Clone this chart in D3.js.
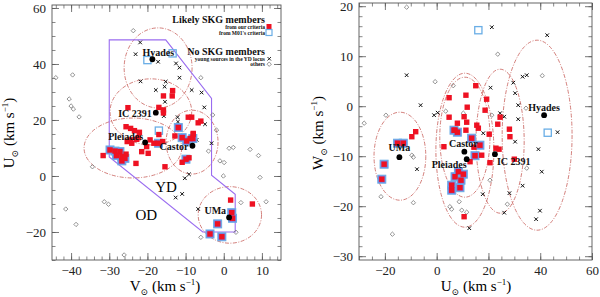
<!DOCTYPE html>
<html>
<head>
<meta charset="utf-8">
<script src="https://cdn.jsdelivr.net/npm/d3@7"></script>
<style>
  body { margin: 0; background: #fff; }
  svg { display: block; font-family: "Liberation Serif", "DejaVu Serif", serif; }
</style>
</head>
<body>
<div id="mount"></div>
<script>
'use strict';

// ---- data: (V,U) plane on the left, (U,W) plane on the right ----
const groupNames = ['Hyades', 'IC 2391', 'Pleiades', 'Castor', 'UMa'];
const groupVU = [[-18.7, 41.7], [-17.8, 22.6], [-20.6, 12.0], [-8.2, 10.8], [1.4, -14.8]];
const groupUW = [[41.5, -1.8], [22.5, -9.6], [11.6, -10.6], [10.7, -9.1], [-14.4, -10.2]];

// group boxes: centre and half widths
const ringsVU = [[-17.2, 38.6, 8.9, 14.3], [-19.1, 22.9, 10.7, 11.8], [-23.8, 10.0, 12.8, 10.7],
                 [-8.3, 12.1, 6.8, 11.4], [1.6, -13.9, 8.3, 10.1]];
const ringsUW = [[38.8, -5.8, 13.5, 19], [24.5, -7.0, 9.3, 14.4], [10.9, -6.2, 9.7, 12],
                 [10.9, -8.8, 11.2, 15.4], [-14.2, -10.0, 10.0, 8.8]];

// young disk locus
const ydLocus = [[-30, 48.6], [-15.2, 48.6], [-3.2, 27.7], [-3.2, 0.3], [3, -6.5], [3, -20], [-5.5, -20], [-30, 6.8]];

const redVU = [[-25.1, 24.4], [-17.0, 24.5], [-15.8, 23.6], [-15.8, 22.5], [-15.8, 28.6], [-13.4, 30.5], [-13.5, 28.6],
  [-25.6, 17.6], [-24.4, 17.0], [-23.4, 16.2], [-22.1, 15.6], [-17.0, 14.8], [-9.3, 21.0], [-8.4, 21.0], [-6.7, 19.0],
  [-6.0, 19.6], [-8.0, 15.2], [-25.3, 12.3], [-24.4, 12.9], [-22.4, 13.7], [-19.3, 12.9], [-18.3, 11.7], [-20.2, 10.5],
  [-19.8, 8.1], [-21.5, 8.7], [-15.4, 3.3], [-23.0, 4.5], [-31.6, 7.3], [-25.6, 7.8], [-8.0, 14.9], [-8.8, 13.4],
  [-12.8, 14.3], [-9.1, 6.5], [-10.9, 4.9], [1.8, -8.6], [7.5, -10.0], [-16.0, 12.3], [-22.8, 13.1], [-24.1, 11.7]];
const bothVU = [[-11.9, 17.3], [-10.9, 13.7], [-9.7, 12.5], [-8.1, 13.4], [-9.9, 6.0], [-17.1, 11.7], [-29.8, 9.3],
  [-28.5, 8.9], [-27.2, 8.7], [-26.7, 6.9], [-28.1, 7.3], [-25.9, 6.3], [-26.7, 5.4], [2.1, -13.1], [2.3, -15.1],
  [-1.6, -17.1], [-3.6, -20.7], [-0.5, -21.7]];
const blueVU = [[-20.0, 41.4], [-13.4, 43.8], [-17.0, 16.2]];
const crossVU = [[-21.9, 47.7], [-23.1, 43.5], [-17.2, 40.8], [-12.5, 40.2], [-11.6, 38.7], [-11.6, 35.1], [-21.8, 33.8],
  [-15.2, 33.7], [-17.8, 30.7], [-15.5, 31.9], [-8.4, 30.7], [-5.8, 29.8], [-15.4, 26.5], [-5.1, 24.5], [-15.7, 21.4],
  [-12.1, 21.0], [-12.0, 19.4], [-4.9, 18.5], [-7.1, 12.9], [-3.2, 11.7], [-9.1, 0.6], [-10.2, -0.8], [-10.9, -6.4],
  [-12.6, -7.7], [-6.7, -11.8]];
const otherVU = [[-23.7, 51.9], [-44.0, 35.1], [-39.6, 36.1], [-40.5, 27.5], [-40.0, 25.0], [-39.4, 23.9], [-37.9, 21.1],
  [-6.0, 35.1], [-2.9, 21.8], [-1.9, 16.4], [-34.4, 3.3], [-31.3, -9.2], [-30.2, -10.1], [-41.4, -11.8], [-38.7, -17.3],
  [-26.1, -28.2], [-4.0, 8.9], [1.4, 9.9], [2.5, 10.2], [6.9, 9.5], [9.1, 7.3], [-1.0, 5.4], [0.1, 4.8], [-0.1, 0.0],
  [9.5, -0.5], [4.5, -9.5], [11.1, -9.2], [-6.0, -21.9], [3.2, -20.1]];

const redUW = [[15.1, 4.1], [4.8, 1.7], [11.3, 2.2], [19.3, 1.4], [11.8, -0.2], [18.7, -0.8], [4.8, -2.2], [10.6, -2.1],
  [24.5, -2.2], [8.0, -3.4], [11.6, -3.2], [15.5, -3.8], [23.6, -3.6], [16.1, -4.4], [11.3, -4.8], [28.1, -4.6],
  [-8.1, -5.1], [-9.6, -6.1], [2.8, -8.1], [14.4, -8.2], [17.4, -9.8], [22.9, -8.4], [24.1, -8.6], [20.6, -11.3],
  [30.0, -10.6], [28.3, -6.1], [20.3, -5.6], [12.9, -11.1], [10.6, -22.1], [7.1, -4.8]];
const bothUW = [[6.7, -4.8], [8.0, -5.2], [-15.1, -7.4], [-12.9, -7.4], [-20.3, -11.6], [-21.2, -14.6], [7.1, -14.1],
  [8.4, -13.1], [5.8, -15.8], [5.8, -16.8], [9.0, -16.3], [9.4, -14.8], [10.3, -13.6], [16.7, -7.8], [14.8, -9.9],
  [13.5, -6.4]];
const blueUW = [[16.1, 15.2], [42.9, -5.3]];
const crossUW = [[21.3, 15.8], [42.7, 14.2], [-11.6, 6.2], [33.2, 5.9], [34.8, 6.2], [29.6, 4.7], [20.8, 3.7], [30.3, 2.6],
  [-6.2, 0.2], [31.5, 0.2], [46.7, -5.2], [31.5, -2.6], [-1.0, -1.8], [0.4, -1.3], [24.5, -1.4], [26.1, -2.1],
  [18.0, -5.4], [30.3, -7.1], [39.3, -8.6], [40.6, -13.1], [-7.6, -12.6], [33.2, -15.9], [28.1, -17.4], [17.8, -17.6],
  [26.1, -21.3], [39.9, -20.9], [38.4, -22.6], [12.6, -24.4]];
const otherUW = [[-11.6, 19.8], [23.6, 10.4], [-0.6, 4.9], [6.4, 4.1], [40.8, 6.1], [34.5, -0.4], [-28.0, -3.4],
  [-19.6, -1.8], [3.5, -1.0], [10.3, -1.4], [21.3, -1.8], [-9.6, -9.8], [-9.0, -10.2], [-21.5, -18.1], [-9.0, -19.3],
  [-17.1, -25.6], [5.1, -20.1], [5.8, -20.6], [8.7, -19.1], [9.7, -20.8], [11.6, -21.2], [34.8, -12.4], [27.3, -19.6],
  [20.6, -14.8]];

const legendTitles = ['Likely SKG members', 'No SKG members'];
const legendItems = ['from our criteria', "from M01's criteria", 'young sources in the YD locus', 'others'];

// ---- styles ----
const RED = '#ee1122', BLUE = '#6aaee6', BOTH = '#7a7ee0', RING = '#c8605a', YD = '#9a6cf0', FRAME = '#555';

const svg = d3.select('#mount').append('svg')
    .attr('width', 600)
    .attr('height', 297);

function sup(t, base) {
  // "X" + subscript sun + " (km s" + superscript -1 + ")"
  t.append('tspan').text(base);
  t.append('tspan').attr('font-size', 9).attr('dy', 4).text('\u2299');
  t.append('tspan').attr('dy', -4).text(' (km s');
  t.append('tspan').attr('font-size', 9).attr('dy', -6).text('\u22121');
  t.append('tspan').attr('dy', 6).text(')');
}

function panel(cfg) {
  const x = d3.scaleLinear().domain(cfg.xd).range([cfg.x0, cfg.x1]);
  const y = d3.scaleLinear().domain(cfg.yd).range([cfg.y1, cfg.y0]);
  const g = svg.append('g');

  // group rings
  g.selectAll('ellipse').data(cfg.rings).join('ellipse')
      .attr('cx', d => x(d[0]))
      .attr('cy', d => y(d[1]))
      .attr('rx', d => x(d[0] + d[2]) - x(d[0]))
      .attr('ry', d => y(d[1]) - y(d[1] + d[3]))
      .attr('fill', 'none')
      .attr('stroke', RING)
      .attr('stroke-width', 0.8)
      .attr('stroke-dasharray', '4,1.5,1,1.5');

  if (cfg.locus) {
    g.append('path')
        .attr('d', d3.line().x(d => x(d[0])).y(d => y(d[1]))(cfg.locus) + 'Z')
        .attr('fill', 'none')
        .attr('stroke', YD)
        .attr('stroke-width', 1.1);
  }

  // frame and ticks on all four sides
  g.append('rect')
      .attr('x', cfg.x0).attr('y', cfg.y0)
      .attr('width', cfg.x1 - cfg.x0).attr('height', cfg.y1 - cfg.y0)
      .attr('fill', 'none').attr('stroke', FRAME).attr('stroke-width', 0.9);

  const axes = [
    [d3.axisBottom(x), `translate(0,${cfg.y1})`, cfg.xMajor, cfg.xMinor, true],
    [d3.axisTop(x), `translate(0,${cfg.y0})`, cfg.xMajor, cfg.xMinor, false],
    [d3.axisLeft(y), `translate(${cfg.x0},0)`, cfg.yMajor, cfg.yMinor, true],
    [d3.axisRight(y), `translate(${cfg.x1},0)`, cfg.yMajor, cfg.yMinor, false]
  ];
  axes.forEach(([ax, tr, major, minor, labels]) => {
    g.append('g').attr('transform', tr)
        .call(ax.tickValues(minor).tickSize(-3.5).tickFormat(''))
        .call(s => s.select('.domain').remove())
        .call(s => s.selectAll('line').attr('stroke', FRAME).attr('stroke-width', 0.7));
    const a = g.append('g').attr('transform', tr)
        .call(ax.tickValues(major).tickSize(-7).tickPadding(labels ? 6 : 0)
          .tickFormat(labels ? d3.format('d') : ''))
        .call(s => s.select('.domain').remove())
        .call(s => s.selectAll('line').attr('stroke', FRAME).attr('stroke-width', 0.8));
    a.selectAll('text').attr('font-size', 13).attr('fill', '#222')
        .attr('font-family', '"Liberation Serif", serif');
  });

  // markers
  g.selectAll('.other').data(cfg.other).join('path').attr('class', 'other')
      .attr('transform', d => `translate(${x(d[0])},${y(d[1])})`)
      .attr('d', 'M0,-2.2L2.2,0L0,2.2L-2.2,0Z')
      .attr('fill', 'none').attr('stroke', '#777').attr('stroke-width', 0.8);
  g.selectAll('.cross').data(cfg.cross).join('path').attr('class', 'cross')
      .attr('transform', d => `translate(${x(d[0])},${y(d[1])})`)
      .attr('d', 'M-1.8,-1.8L1.8,1.8M-1.8,1.8L1.8,-1.8')
      .attr('stroke', '#111').attr('stroke-width', 1);
  g.selectAll('.blue').data(cfg.blue).join('rect').attr('class', 'blue')
      .attr('x', d => x(d[0]) - 3.6).attr('y', d => y(d[1]) - 3.6)
      .attr('width', 7.2).attr('height', 7.2)
      .attr('fill', 'none').attr('stroke', BLUE).attr('stroke-width', 1.3);
  g.selectAll('.bothb').data(cfg.both).join('rect').attr('class', 'bothb')
      .attr('x', d => x(d[0]) - 4).attr('y', d => y(d[1]) - 4)
      .attr('width', 8).attr('height', 8)
      .attr('fill', BOTH).attr('stroke', BLUE).attr('stroke-width', 1);
  g.selectAll('.red').data(cfg.red.concat(cfg.both)).join('rect').attr('class', 'red')
      .attr('x', d => x(d[0]) - 2.7).attr('y', d => y(d[1]) - 2.7)
      .attr('width', 5.4).attr('height', 5.4)
      .attr('fill', RED);

  // group centres and names
  g.selectAll('.grp').data(cfg.groups).join('circle').attr('class', 'grp')
      .attr('cx', d => x(d[0])).attr('cy', d => y(d[1]))
      .attr('r', 2.9).attr('fill', '#000');
  g.selectAll('.gname').data(cfg.groups).join('text').attr('class', 'gname')
      .attr('x', (d, i) => x(d[0]) + cfg.lab[i][0])
      .attr('y', (d, i) => y(d[1]) + cfg.lab[i][1])
      .attr('text-anchor', (d, i) => cfg.lab[i][2])
      .attr('font-size', 10).attr('font-weight', 'bold').attr('fill', '#111')
      .text((d, i) => groupNames[i]);

  return { x, y, g };
}

const left = panel({
  x0: 52, x1: 281, y0: 5, y1: 260, xd: [-45, 15], yd: [-30, 61.07],
  xMajor: d3.range(-40, 11, 10), xMinor: d3.range(-44, 15, 2),
  yMajor: d3.range(-20, 61, 20), yMinor: d3.range(-30, 61, 5),
  rings: ringsVU, locus: ydLocus, groups: groupVU,
  red: redVU, both: bothVU, blue: blueVU, cross: crossVU, other: otherVU,
  lab: [[-10, -3, 'start'], [-4, 4, 'end'], [-2, -2, 'end'], [-4, 4, 'end'], [-3, -3, 'end']]
});

const right = panel({
  x0: 359, x1: 592, y0: 3, y1: 260, xd: [-30, 60], yd: [-30.76, 20.64],
  xMajor: d3.range(-20, 61, 20), xMinor: d3.range(-30, 61, 5),
  yMajor: d3.range(-30, 21, 10), yMinor: d3.range(-30, 21, 2),
  rings: ringsUW, groups: groupUW,
  red: redUW, both: bothUW, blue: blueUW, cross: crossUW, other: otherUW,
  lab: [[0, -4, 'middle'], [2, 11, 'start'], [0, 9, 'end'], [-1, -5, 'middle'], [0, -6, 'middle']]
});

// region names in the (V,U) plane
left.g.append('text').attr('x', left.x(-15.1)).attr('y', left.y(-5.6))
    .attr('text-anchor', 'middle').attr('font-size', 15).text('YD');
left.g.append('text').attr('x', left.x(-20.3)).attr('y', left.y(-15.6))
    .attr('text-anchor', 'middle').attr('font-size', 15).text('OD');

// legend
const lg = svg.append('g').attr('font-weight', 'bold').attr('fill', '#111').attr('text-anchor', 'end');
lg.append('text').attr('x', 265).attr('y', 23).attr('font-size', 10).text(legendTitles[0]);
lg.append('text').attr('x', 265).attr('y', 55).attr('font-size', 10).text(legendTitles[1]);
const itemY = [29, 35, 61, 66];
legendItems.forEach((t, i) => {
  lg.append('text').attr('x', 265).attr('y', itemY[i]).attr('font-size', 5.5).text(t);
});
lg.append('rect').attr('x', 266.5).attr('y', 24).attr('width', 5).attr('height', 5).attr('fill', RED);
lg.append('rect').attr('x', 266).attr('y', 29.5).attr('width', 6).attr('height', 6)
    .attr('fill', 'none').attr('stroke', BLUE).attr('stroke-width', 1.2);
lg.append('path').attr('d', 'M267.5,57L271,60.5M267.5,60.5L271,57').attr('stroke', '#111').attr('stroke-width', 0.9);
lg.append('path').attr('d', 'M269.2,62L271.4,64.2L269.2,66.4L267,64.2Z').attr('fill', 'none')
    .attr('stroke', '#777').attr('stroke-width', 0.8);

// axis titles
sup(svg.append('text').attr('x', 165).attr('y', 291).attr('text-anchor', 'middle').attr('font-size', 15), 'V');
sup(svg.append('text').attr('x', 476).attr('y', 291).attr('text-anchor', 'middle').attr('font-size', 15), 'U');
sup(svg.append('text').attr('transform', 'translate(14,133) rotate(-90)').attr('text-anchor', 'middle').attr('font-size', 15), 'U');
sup(svg.append('text').attr('transform', 'translate(323,133) rotate(-90)').attr('text-anchor', 'middle').attr('font-size', 15), 'W');
</script>
</body>
</html>
